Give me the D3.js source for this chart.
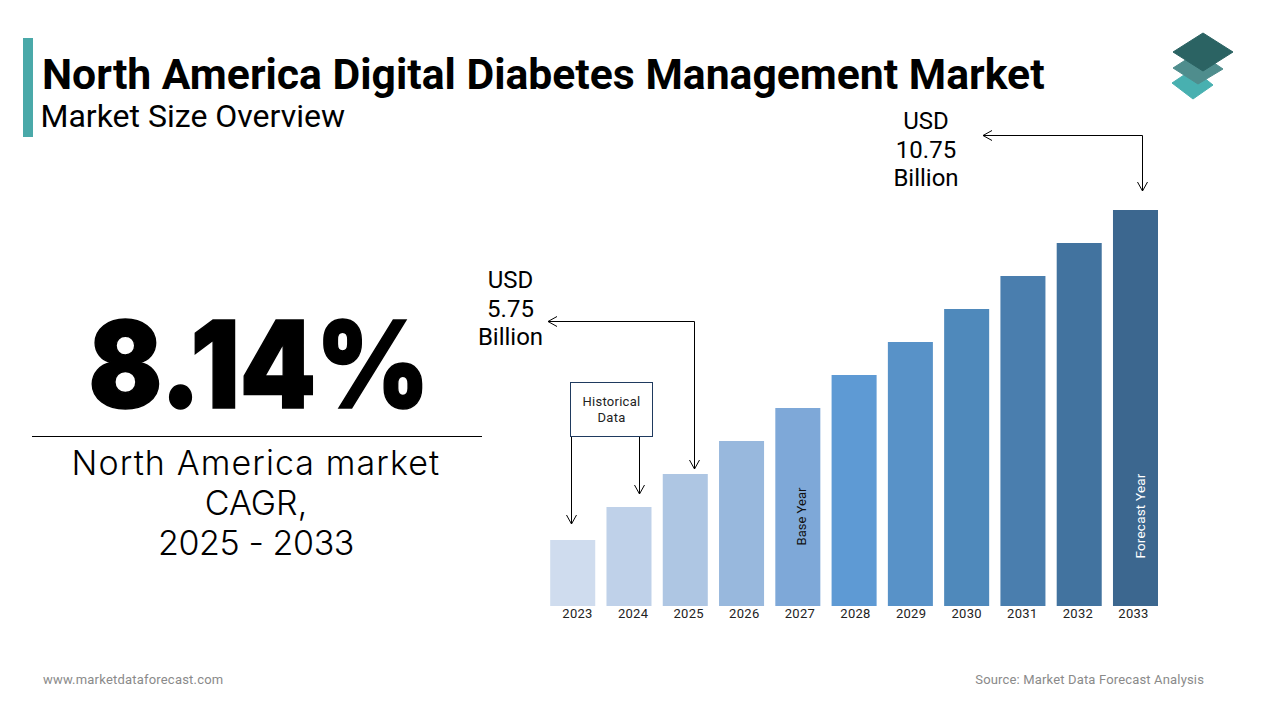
<!DOCTYPE html>
<html><head><meta charset="utf-8">
<script src="https://cdnjs.cloudflare.com/ajax/libs/d3/7.8.5/d3.min.js"></script>
<style>html,body{margin:0;padding:0;background:#fff}svg{display:block}text{font-family:Roboto,sans-serif}</style>
</head><body><svg id="c" width="1280" height="720"></svg>
<script>
const years = ["2023","2024","2025","2026","2027","2028","2029","2030","2031","2032","2033"];
// Bars are schematic in the reference: heights read as relative steps, not USD
const barHeights = [2,3,4,5,6,7,8,9,10,11,12];
const barColors = ["#cfdcee","#bfd1e9","#aec6e3","#98b8dd","#7ea8d8","#5e9ad4","#5892c8","#4f89bb","#4a7eae","#42739f","#3c678f"];
const titleText = "North America Digital Diabetes Management Market";
const subtitleText = "Market Size Overview";
const cagrText = "8.14%";
const cagrLines = ["North America market","CAGR,","2025 - 2033"];
const startLabel = ["USD","5.75","Billion"];
const endLabel = ["USD","10.75","Billion"];
const histLabel = ["Historical","Data"];

const svg = d3.select("#c");
const x = d3.scaleBand().domain(years).range([550.2,1158]).paddingInner(0.2);
const y = d3.scaleLinear().domain([0,12]).range([606,210]);
const labelX = d3.scalePoint().domain(years).range([577,1133]);

// header
svg.append("rect").attr("x",23).attr("y",38).attr("width",10).attr("height",99).attr("fill","#4aa9a9");
svg.append("text").attr("x",42).attr("y",89).attr("font-size",42.7).attr("font-weight",700).attr("fill","#000").text(titleText);
svg.append("text").attr("x",40.5).attr("y",127).attr("font-size",32).attr("fill","#000").text(subtitleText);

// logo
const logo = svg.append("g");
[["M1172,83 L1193,69 L1213,85 L1193,99 Z","#48b0b0"],
 ["M1173,68 L1198,52 L1223,69 L1198,84 Z","#4f8d8d"],
 ["M1173,52 L1203,33 L1233,52 L1203,71 Z","#2b6363"]].forEach(([d,f])=>
  logo.append("path").attr("d",d).attr("fill",f).attr("stroke",f).attr("stroke-width",1).attr("stroke-linejoin","round"));

// left block
svg.append("text").attr("x",259).attr("y",407.5).attr("text-anchor","middle")
  .attr("font-size",121).attr("font-weight",900).style("font-family","Inter").attr("fill","#000")
  .attr("stroke","#000").attr("stroke-width",1.5)
  .attr("textLength",341).attr("lengthAdjust","spacingAndGlyphs").text(cagrText);
svg.append("line").attr("x1",32).attr("x2",482).attr("y1",436.5).attr("y2",436.5).attr("stroke","#000");
svg.append("g").selectAll("text").data(cagrLines).join("text")
  .attr("x",256).attr("y",(d,i)=>475+i*40).attr("text-anchor","middle").attr("font-size",34)
  .attr("letter-spacing",(d,i)=>[1.1,0,-0.4][i])
  .style("font-family","Inter").attr("font-weight",300).attr("fill","#000").text(d=>d);

// bars
svg.append("g").selectAll("rect").data(years).join("rect")
  .attr("x",d=>x(d)).attr("width",x.bandwidth())
  .attr("y",(d,i)=>y(barHeights[i])).attr("height",(d,i)=>y(0)-y(barHeights[i]))
  .attr("fill",(d,i)=>barColors[i]);

// axis
const ax = svg.append("g").attr("transform","translate(0,606)")
  .call(d3.axisBottom(labelX).tickSize(0).tickPadding(3));
ax.select(".domain").remove();
ax.selectAll("text").attr("font-size",13).style("font-family","Roboto").attr("fill","#222").attr("letter-spacing",0.3);

// bar notes
svg.append("text").attr("transform",`translate(${x("2027")+x.bandwidth()/2+8},516.5) rotate(-90)`)
  .attr("text-anchor","middle").attr("font-size",13).attr("fill","#111").text("Base Year");
svg.append("text").attr("transform",`translate(${x("2033")+x.bandwidth()/2+9.5},516) rotate(-90)`)
  .attr("text-anchor","middle").attr("font-size",13.5).attr("letter-spacing",0.2).attr("fill","#fff").text("Forecast Year");

// value callouts
function stack(lines,cx,y0,dy){
  svg.append("g").selectAll("text").data(lines).join("text")
    .attr("x",cx).attr("y",(d,i)=>y0+i*dy).attr("text-anchor","middle").attr("font-size",24).attr("fill","#000").text(d=>d);
}
stack(startLabel,510.5,288,28.5);
stack(endLabel,926,129,28.5);

// connectors
const defs = svg.append("defs");
defs.append("marker").attr("id","v").attr("viewBox","-10 -6 11 12").attr("refX",0).attr("refY",0)
  .attr("markerWidth",11).attr("markerHeight",12).attr("markerUnits","userSpaceOnUse").attr("orient","auto")
  .append("path").attr("d","M-9,-5 L0,0 L-9,5").attr("fill","none").attr("stroke","#000").attr("stroke-width",1);
defs.append("marker").attr("id","vs").attr("viewBox","-1 -6 11 12").attr("refX",0).attr("refY",0)
  .attr("markerWidth",11).attr("markerHeight",12).attr("markerUnits","userSpaceOnUse").attr("orient","auto")
  .append("path").attr("d","M9,-5 L0,0 L9,5").attr("fill","none").attr("stroke","#000").attr("stroke-width",1);
const conn = svg.append("g").attr("fill","none").attr("stroke","#000").attr("stroke-width",1);
[[[571.5,437],[571.5,524]],
 [[639.5,437],[639.5,494]],
 [[694.5,469],[694.5,321.5],[548,321.5]],
 [[1142.5,191],[1142.5,135.5],[983,135.5]]].forEach(pts=>{
  const p = conn.append("path").attr("d",d3.line()(pts));
  p.attr("marker-end","url(#v)");
  if(pts.length===3) p.attr("marker-start","url(#vs)");
});

// historical box
svg.append("rect").attr("x",570.5).attr("y",382.5).attr("width",82).attr("height",54).attr("fill","#fff").attr("stroke","#1f3a5f");
svg.append("g").selectAll("text").data(histLabel).join("text")
  .attr("x",611.5).attr("y",(d,i)=>406+i*16).attr("text-anchor","middle").attr("font-size",13).attr("letter-spacing",0.25).attr("fill","#222").text(d=>d);

// footer
svg.append("text").attr("x",43).attr("y",684).attr("font-size",13).attr("letter-spacing",0.2).attr("fill","#8a8a8a").text("www.marketdataforecast.com");
svg.append("text").attr("x",1204).attr("y",684).attr("text-anchor","end").attr("font-size",13).attr("letter-spacing",0.16).attr("fill","#8a8a8a").text("Source: Market Data Forecast Analysis");
</script></body></html>
